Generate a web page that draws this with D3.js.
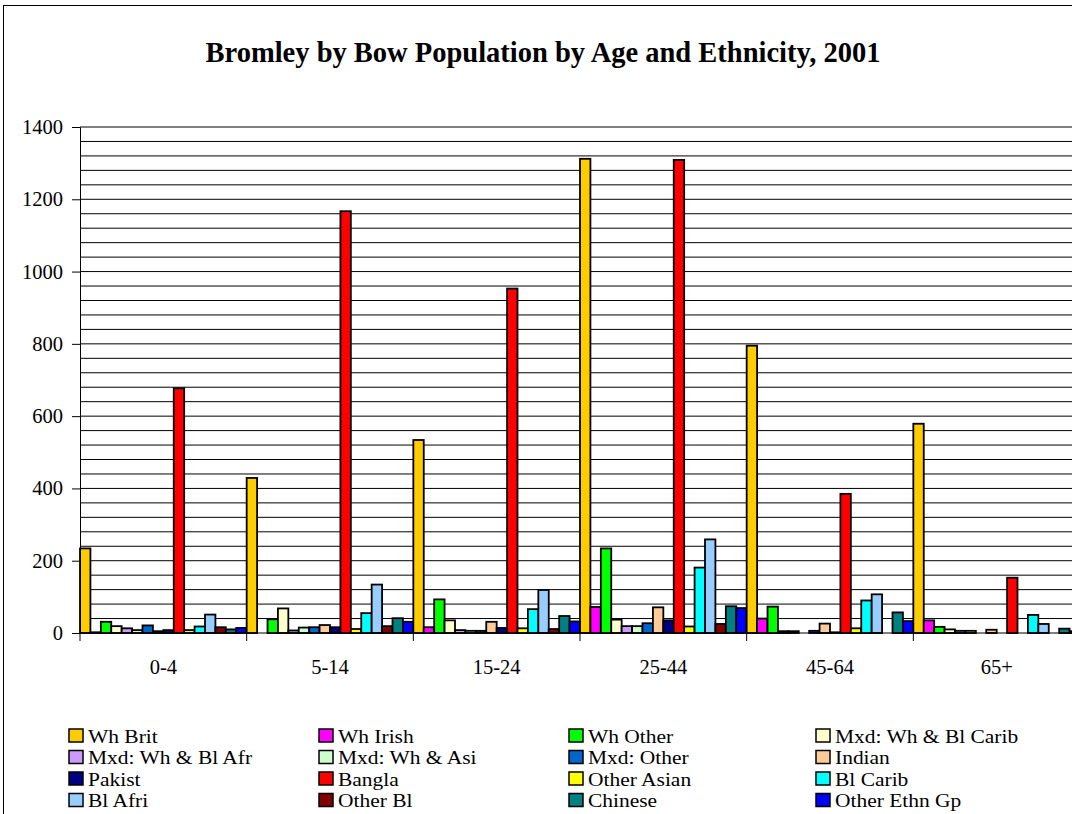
<!DOCTYPE html>
<html>
<head>
<meta charset="utf-8">
<script src="https://cdn.jsdelivr.net/npm/d3@7"></script>
<style>
  html, body { margin: 0; padding: 0; background: #fff; }
  svg { display: block; }
  text { font-family: "Liberation Serif", "Times New Roman", serif; fill: #000; }
</style>
</head>
<body>
<svg id="chart" width="1072" height="814"></svg>
<script>
// Age bands on the category axis
const ageGroups = ["0-4", "5-14", "15-24", "25-44", "45-64", "65+"];

// Ethnic groups, in legend / bar order
const seriesNames = [
  "Wh Brit", "Wh Irish", "Wh Other", "Mxd: Wh & Bl Carib",
  "Mxd: Wh & Bl Afr", "Mxd: Wh & Asi", "Mxd: Other", "Indian",
  "Pakist", "Bangla", "Other Asian", "Bl Carib",
  "Bl Afri", "Other Bl", "Chinese", "Other Ethn Gp"
];

const seriesColors = [
  "#FFCC00", "#FF00FF", "#00FF00", "#FFFFCC",
  "#CC99FF", "#CCFFCC", "#0066CC", "#FFCC99",
  "#000080", "#FF0000", "#FFFF00", "#00FFFF",
  "#99CCFF", "#800000", "#008080", "#0000FF"
];

// Population per ethnic group, one value per age band
const whBrit      = [234, 429, 534, 1312, 795, 579];
const whIrish     = [2, 0, 16, 72, 40, 35];
const whOther     = [31, 38, 93, 234, 73, 17];
const mxdWhBlCar  = [19, 68, 35, 37, 5, 10];
const mxdWhBlAfr  = [13, 7, 8, 19, 5, 6];
const mxdWhAsi    = [8, 15, 6, 19, 0, 6];
const mxdOther    = [21, 16, 6, 27, 6, 0];
const indian      = [5, 22, 31, 71, 26, 9];
const pakist      = [8, 16, 14, 35, 2, 0];
const bangla      = [677, 1167, 953, 1309, 385, 153];
const otherAsian  = [8, 11, 13, 18, 13, 0];
const blCarib     = [18, 55, 66, 181, 90, 50];
const blAfri      = [51, 134, 119, 259, 107, 25];
const otherBl     = [16, 19, 11, 25, 0, 0];
const chinese     = [10, 41, 47, 74, 57, 12];
const otherEthn   = [14, 31, 32, 69, 33, 5];

const seriesValues = [
  whBrit, whIrish, whOther, mxdWhBlCar,
  mxdWhBlAfr, mxdWhAsi, mxdOther, indian,
  pakist, bangla, otherAsian, blCarib,
  blAfri, otherBl, chinese, otherEthn
];

// Value axis
const yMax = 1400;
const yTickValues = [0, 200, 400, 600, 800, 1000, 1200, 1400];
const yGridStep = 40;

const svg = d3.select("#chart");

// Chart area frame (continues past the right and bottom edges)
svg.append("rect")
  .attr("x", 3.5).attr("y", 5.5)
  .attr("width", 1100).attr("height", 900)
  .attr("fill", "#fff").attr("stroke", "#000").attr("stroke-width", 1);

// Title
svg.append("text")
  .attr("x", 543).attr("y", 62)
  .attr("text-anchor", "middle")
  .style("font-size", "28.5px").style("font-weight", "bold")
  .text("Bromley by Bow Population by Age and Ethnicity, 2001");

const plot = { left: 80, right: 1080, top: 127, bottom: 633 };

const x0 = d3.scaleBand().domain(ageGroups)
  .range([plot.left, plot.right]).paddingInner(0).paddingOuter(0);
const x1 = d3.scaleBand().domain(d3.range(seriesNames.length))
  .range([0, x0.bandwidth()]).padding(0);
const y = d3.scaleLinear().domain([0, yMax]).range([plot.bottom, plot.top]);

// Horizontal gridlines
svg.append("g")
  .selectAll("line")
  .data(d3.range(yGridStep, yMax + 1, yGridStep))
  .join("line")
  .attr("x1", plot.left).attr("x2", plot.right)
  .attr("y1", d => y(d)).attr("y2", d => y(d))
  .attr("stroke", "#000").attr("stroke-width", 1);

// Bars
const groups = svg.append("g")
  .selectAll("g")
  .data(ageGroups)
  .join("g")
  .attr("transform", d => `translate(${x0(d)},0)`);

groups.selectAll("rect")
  .data((g, gi) => seriesValues.map((vals, si) => ({ si, v: vals[gi] })))
  .join("rect")
  .attr("x", d => x1(d.si))
  .attr("width", x1.bandwidth())
  .attr("y", d => y(d.v))
  .attr("height", d => y(0) - y(d.v))
  .attr("fill", d => seriesColors[d.si])
  .attr("stroke", "#000")
  .attr("stroke-width", 1.8);

// Y axis
const yAxis = svg.append("g")
  .attr("transform", `translate(${plot.left},0)`)
  .call(d3.axisLeft(y).tickValues(yTickValues).tickSize(8).tickPadding(9).tickFormat(d3.format("d")));
yAxis.select(".domain").attr("stroke", "#000");
yAxis.selectAll(".tick line").attr("stroke", "#000");
yAxis.selectAll("text")
  .style("font-size", "20.5px")
  .style("font-family", "'Liberation Serif', 'Times New Roman', serif")
  .attr("fill", "#000");

// X axis: baseline with tick marks at group boundaries
const xAxisG = svg.append("g");
xAxisG.append("line")
  .attr("x1", plot.left).attr("x2", plot.right)
  .attr("y1", y(0)).attr("y2", y(0))
  .attr("stroke", "#000");
xAxisG.selectAll("line.tick")
  .data(ageGroups.map(g => x0(g)).concat([plot.right]))
  .join("line")
  .attr("class", "tick")
  .attr("x1", d => d).attr("x2", d => d)
  .attr("y1", y(0)).attr("y2", y(0) + 8)
  .attr("stroke", "#000");
xAxisG.selectAll("text")
  .data(ageGroups)
  .join("text")
  .attr("x", d => x0(d) + x0.bandwidth() / 2)
  .attr("y", y(0) + 41)
  .attr("text-anchor", "middle")
  .style("font-size", "20.5px")
  .text(d => d);

// Legend: four columns, four tightly packed rows
const legendCols = [69, 319, 569, 816];
const legendRows = [736, 757.5, 779, 800.5];
const legendFont = 18.5;
const legendStretch = 1.16;
const legend = svg.append("g")
  .selectAll("g")
  .data(seriesNames)
  .join("g")
  .attr("transform", (d, i) => `translate(${legendCols[i % 4]},${legendRows[Math.floor(i / 4)]})`);
legend.append("rect")
  .attr("x", 0).attr("y", -7)
  .attr("width", 14).attr("height", 13)
  .attr("fill", (d, i) => seriesColors[i])
  .attr("stroke", "#000").attr("stroke-width", 1.5);
legend.append("text")
  .attr("x", 19).attr("y", 6.5)
  .style("font-size", legendFont + "px")
  .text(d => d)
  .each(function () {
    const w = this.getComputedTextLength();
    d3.select(this)
      .attr("textLength", w * legendStretch)
      .attr("lengthAdjust", "spacingAndGlyphs");
  });
</script>
</body>
</html>
